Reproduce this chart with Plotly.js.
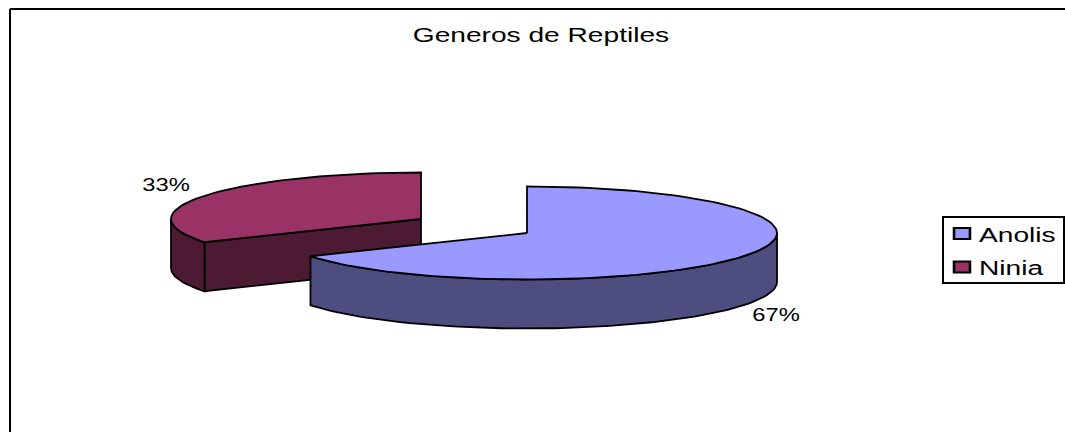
<!DOCTYPE html>
<html>
<head>
<meta charset="utf-8">
<script src="https://cdn.plot.ly/plotly-3.0.1.min.js"></script>
<style>html,body{margin:0;padding:0;background:#fff}#chart{width:1065px;height:432px}</style>
</head>
<body>
<div id="chart"></div>
<script>
const chartTitle = "Generos de Reptiles";
const categories = ["Anolis", "Ninia"];
const values = [2, 1];
const topColors = ["#9999FF", "#993366"];
const sideColors = ["#4D4D80", "#4D1A33"];

// Drawing geometry of the tilted pie, in the page's pixel scale
const centers = [[527, 233], [421, 219]];
const rx = 250, ry = 46.5, depth = 49;
const labelPos = [[775.5, 314], [166, 184]];

const total = values.reduce((a, b) => a + b, 0);
const pt = (c, deg, dy = 0) => {
  const r = deg * Math.PI / 180;
  return [c[0] + rx * Math.sin(r), c[1] - ry * Math.cos(r) + dy];
};
const arc = (c, a0, a1, dy = 0) => {
  const out = [], n = Math.max(2, Math.round(Math.abs(a1 - a0) / 2));
  for (let i = 0; i <= n; i++) out.push(pt(c, a0 + (a1 - a0) * i / n, dy));
  return out;
};
const poly = (points, color) => ({
  type: "scatter", mode: "lines", fill: "toself", fillcolor: color,
  x: points.map(p => p[0]), y: points.map(p => p[1]),
  line: {color: "#000", width: 1.8}, hoverinfo: "skip", showlegend: false
});

let start = 0;
const slices = values.map(v => {
  const a0 = start, a1 = start + v / total * 360;
  start = a1;
  return [a0, a1];
});

const traces = [];
// Ninia (second slice) lies behind, so it is drawn first
{
  const [a0, a1] = slices[1], c = centers[1];
  const cornerTop = pt(c, a0), cornerBot = pt(c, a0, depth);
  traces.push(poly([[c[0], c[1]], cornerTop, cornerBot, [c[0], c[1] + depth], [c[0], c[1]]], sideColors[1]));
  const rimTop = arc(c, a0, 270), rimBot = arc(c, 270, a0, depth);
  traces.push(poly([...rimTop, ...rimBot, rimTop[0]], sideColors[1]));
  traces.push(poly([[c[0], c[1]], ...arc(c, a0, a1), [c[0], c[1]]], topColors[1]));
}
{
  const [a0, a1] = slices[0], c = centers[0];
  const rimTop = arc(c, 90, a1), rimBot = arc(c, a1, 90, depth);
  traces.push(poly([...rimTop, ...rimBot, rimTop[0]], sideColors[0]));
  traces.push(poly([[c[0], c[1]], ...arc(c, a0, a1), [c[0], c[1]]], topColors[0]));
}
// Legend entries
categories.forEach((name, i) => traces.push({
  type: "scatter", mode: "markers", name, x: [null], y: [null],
  marker: {symbol: "square", size: 11, color: topColors[i], line: {color: "#000", width: 1.8}},
  hoverinfo: "skip", showlegend: true
}));

const font = {family: "'Liberation Sans', Arial, sans-serif", color: "#000"};
const layout = {
  width: 1065, height: 432,
  margin: {l: 0, r: 0, t: 0, b: 0},
  paper_bgcolor: "#fff", plot_bgcolor: "#fff",
  xaxis: {range: [0, 1065], visible: false, fixedrange: true},
  yaxis: {range: [432, 0], visible: false, fixedrange: true},
  title: {text: chartTitle, font: {...font, size: 21}, x: 541 / 1065, xanchor: "center", y: 1 - 35 / 432, yanchor: "middle"},
  legend: {
    x: 942 / 1065, xanchor: "left", y: 1 - 216 / 432, yanchor: "top",
    bordercolor: "#000", borderwidth: 2, bgcolor: "#fff",
    font: {...font, size: 21}, itemsizing: "trace",
    entrywidth: 82, entrywidthmode: "pixels"
  },
  annotations: categories.map((name, i) => ({
    x: labelPos[i][0], y: labelPos[i][1], xref: "x", yref: "y", showarrow: false,
    text: Math.round(values[i] / total * 100) + "%", font: {...font, size: 19}
  })),
  shapes: [
    {type: "line", xref: "paper", yref: "paper", x0: 10 / 1065, x1: 10 / 1065, y0: 0, y1: 1 - 9 / 432, line: {color: "#000", width: 2}},
    {type: "line", xref: "paper", yref: "paper", x0: 10 / 1065, x1: 1, y0: 1 - 9 / 432, y1: 1 - 9 / 432, line: {color: "#000", width: 2}}
  ]
};

// The reference's text is stretched horizontally; widen it about its own centre or left edge
const stretch = (el, sx, anchorLeft) => {
  const b = el.getBBox(), ox = anchorLeft ? b.x : b.x + b.width / 2;
  const prev = el.getAttribute("transform") || "";
  el.setAttribute("transform", `${prev} translate(${ox},0) scale(${sx},1) translate(${-ox},0)`);
};
Plotly.newPlot("chart", traces, layout, {displayModeBar: false, staticPlot: true}).then(gd => {
  gd.querySelectorAll(".gtitle").forEach(t => stretch(t, 1.34));
  gd.querySelectorAll(".annotation-text").forEach(t => stretch(t, 1.25));
  gd.querySelectorAll(".legend [clip-path]").forEach(n => n.removeAttribute("clip-path"));
  const bg = gd.querySelector(".legend .bg");
  if (bg) { bg.setAttribute("width", 121); bg.setAttribute("height", 66); }
  const rowY = [17.5, 51];
  gd.querySelectorAll(".legend .traces").forEach((g, i) => {
    g.setAttribute("transform", `translate(0,${rowY[i]})`);
    const txt = g.querySelector(".legendtext");
    if (txt) {
      stretch(txt, 1.34, true);
      txt.setAttribute("transform", `translate(-3,0) ${txt.getAttribute("transform")}`);
    }
    g.querySelectorAll(".legendpoints path").forEach(p => {
      p.setAttribute("transform", `${p.getAttribute("transform") || ""} scale(1.45,1)`);
    });
  });
});
</script>
</body>
</html>
